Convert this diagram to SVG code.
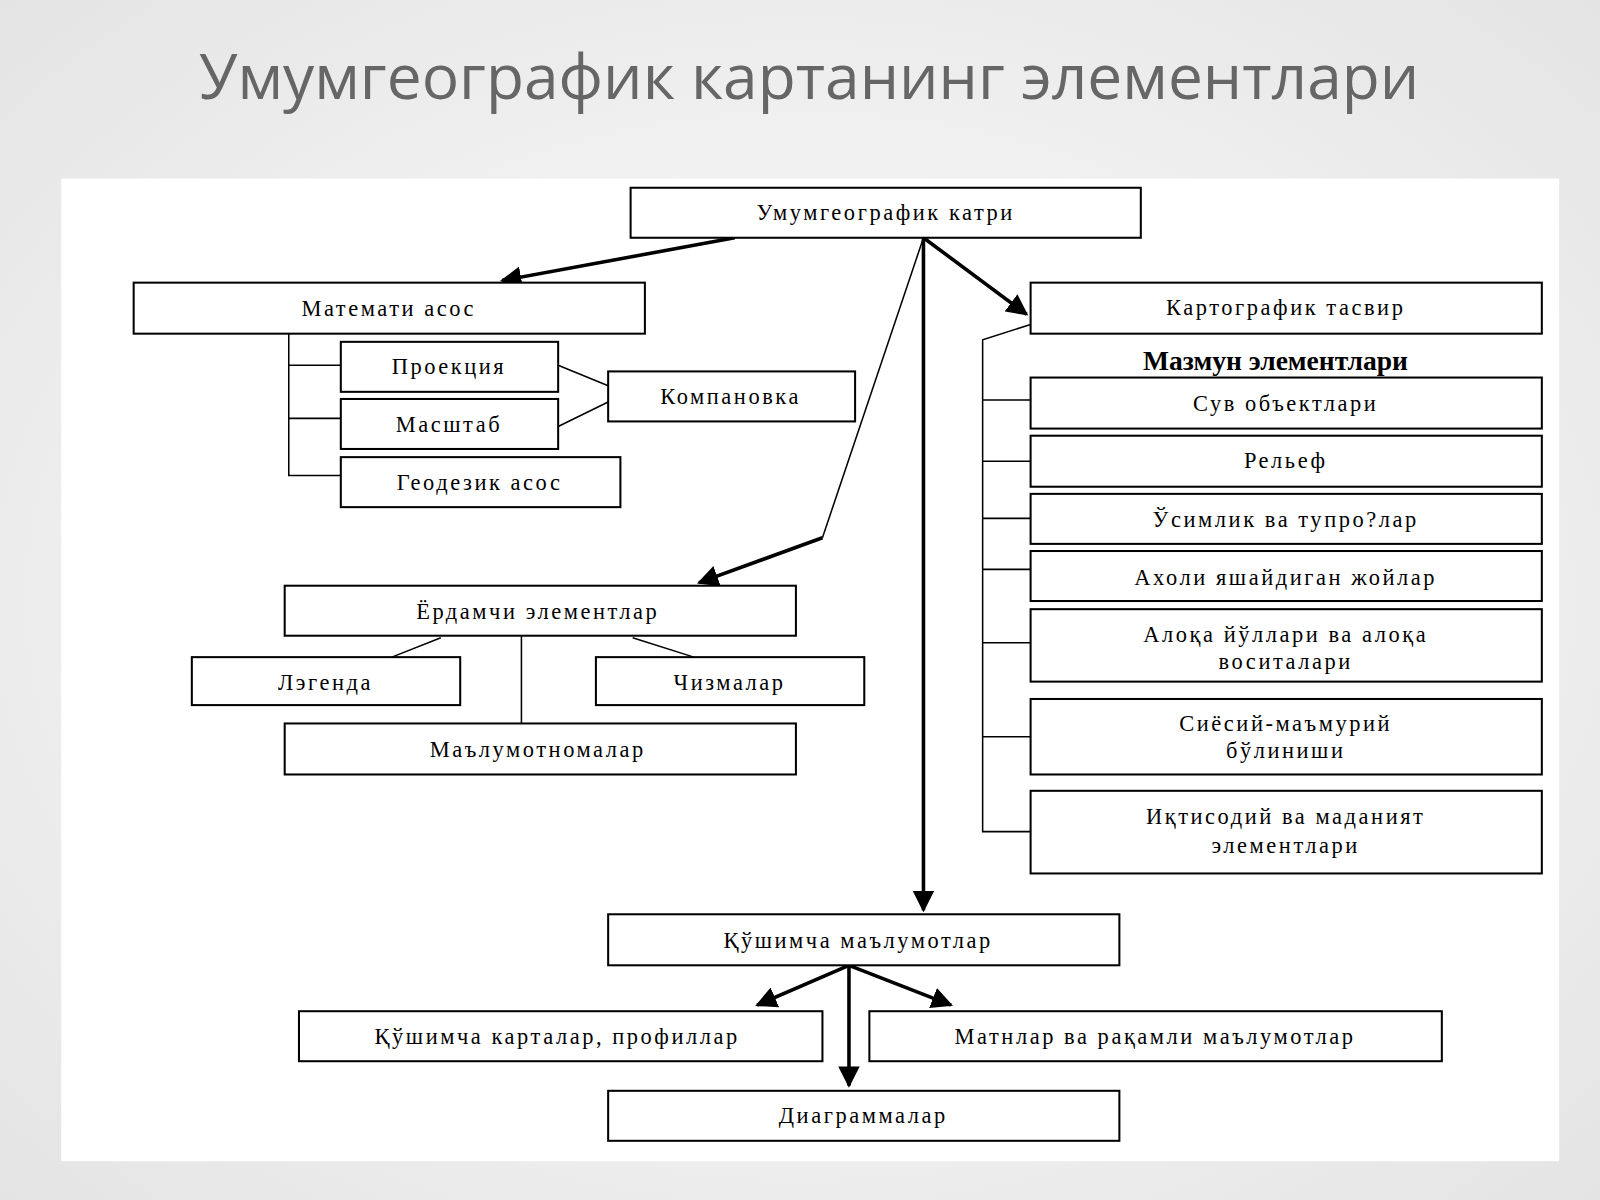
<svg xmlns="http://www.w3.org/2000/svg" width="1600" height="1200" viewBox="0 0 1600 1200">
<defs>
<radialGradient id="bg" cx="50%" cy="50%" r="70%"><stop offset="0" stop-color="#ffffff"/><stop offset="1" stop-color="#e4e4e4"/></radialGradient>
<marker id="ah" viewBox="0 0 10 10" refX="9" refY="5" markerWidth="6" markerHeight="6" orient="auto"><path d="M0,0L10,5L0,10z" fill="#000"/></marker>
<style>
.b{fill:#fff;stroke:#000;stroke-width:2}
.t{font-family:"Liberation Serif",serif;font-size:22px;letter-spacing:2.5px;text-anchor:middle;fill:#000}
.l{fill:none;stroke:#000;stroke-width:1.5}
.a{fill:none;stroke:#000;stroke-width:3.5;marker-end:url(#ah)}
</style>
</defs>
<rect width="1600" height="1200" fill="url(#bg)"/>
<g transform="scale(1.0204)">
<text x="793" y="97" font-family="Open Sans, sans-serif" font-size="61" fill="#666" text-anchor="middle">Умумгеографик картанинг элементлари</text>
<rect x="60" y="175" width="1468" height="963" fill="#fff"/>
<g id="connectors">
<path class="a" d="M720,233L492,275"/>
<path class="a" d="M905,233L1006,308"/>
<path class="a" d="M905,233V892"/>
<path class="l" d="M905,233L806,527"/>
<path class="a" d="M806,527L685,571"/>
<path class="l" d="M283,327V466H334M283,358H334M283,410H334"/>
<path class="l" d="M547,358L596,378M547,418L596,394"/>
<path class="l" d="M1010,318L963,333V815H1010M963,392H1010M963,452H1010M963,508H1010M963,558H1010M963,630H1010M963,722H1010"/>
<path class="l" d="M432,625L384,644M620,625L680,644M511,623V709"/>
<path class="a" d="M832,946L742,985"/>
<path class="a" d="M832,946L932,985"/>
<path class="a" d="M832,946V1064"/>
</g>
<g id="n1"><rect class="b" x="618" y="184" width="500" height="49"/><text class="t" x="868" y="216">Умумгеографик катри</text></g>
<g id="n2"><rect class="b" x="131" y="277" width="501" height="50"/><text class="t" x="381" y="310">Математи асос</text></g>
<g id="n3"><rect class="b" x="334" y="335" width="213" height="49"/><text class="t" x="440" y="367">Проекция</text></g>
<g id="n4"><rect class="b" x="334" y="391" width="213" height="49"/><text class="t" x="440" y="423">Масштаб</text></g>
<g id="n5"><rect class="b" x="334" y="448" width="274" height="49"/><text class="t" x="470" y="480">Геодезик асос</text></g>
<g id="n6"><rect class="b" x="596" y="364" width="242" height="49"/><text class="t" x="716" y="396">Компановка</text></g>
<g id="n7"><rect class="b" x="1010" y="277" width="501" height="50"/><text class="t" x="1260" y="309">Картографик тасвир</text></g>
<text x="1250" y="363" font-family="Liberation Serif, serif" font-size="27" font-weight="bold" text-anchor="middle">Мазмун элементлари</text>
<g id="n8"><rect class="b" x="1010" y="370" width="501" height="50"/><text class="t" x="1260" y="403">Сув объектлари</text></g>
<g id="n9"><rect class="b" x="1010" y="427" width="501" height="50"/><text class="t" x="1260" y="459">Рельеф</text></g>
<g id="n10"><rect class="b" x="1010" y="484" width="501" height="49"/><text class="t" x="1260" y="516">Ўсимлик ва тупро?лар</text></g>
<g id="n11"><rect class="b" x="1010" y="540" width="501" height="49"/><text class="t" x="1260" y="573">Ахоли яшайдиган жойлар</text></g>
<g id="n12"><rect class="b" x="1010" y="597" width="501" height="71"/><text class="t" x="1260" y="629">Алоқа йўллари ва алоқа</text><text class="t" x="1260" y="656">воситалари</text></g>
<g id="n13"><rect class="b" x="1010" y="685" width="501" height="74"/><text class="t" x="1260" y="716">Сиёсий-маъмурий</text><text class="t" x="1260" y="743">бўлиниши</text></g>
<g id="n14"><rect class="b" x="1010" y="775" width="501" height="81"/><text class="t" x="1260" y="808">Иқтисодий ва маданият</text><text class="t" x="1260" y="836">элементлари</text></g>
<g id="n15"><rect class="b" x="279" y="574" width="501" height="49"/><text class="t" x="527" y="607">Ёрдамчи элементлар</text></g>
<g id="n16"><rect class="b" x="188" y="644" width="263" height="47"/><text class="t" x="319" y="676">Лэгенда</text></g>
<g id="n17"><rect class="b" x="584" y="644" width="263" height="47"/><text class="t" x="715" y="676">Чизмалар</text></g>
<g id="n18"><rect class="b" x="279" y="709" width="501" height="50"/><text class="t" x="527" y="742">Маълумотномалар</text></g>
<g id="n19"><rect class="b" x="596" y="896" width="501" height="50"/><text class="t" x="841" y="929">Қўшимча маълумотлар</text></g>
<g id="n20"><rect class="b" x="293" y="991" width="513" height="49"/><text class="t" x="546" y="1023">Қўшимча карталар, профиллар</text></g>
<g id="n21"><rect class="b" x="852" y="991" width="561" height="49"/><text class="t" x="1132" y="1023">Матнлар ва рақамли маълумотлар</text></g>
<g id="n22"><rect class="b" x="596" y="1069" width="501" height="49"/><text class="t" x="846" y="1101">Диаграммалар</text></g>
</g>
</svg>
